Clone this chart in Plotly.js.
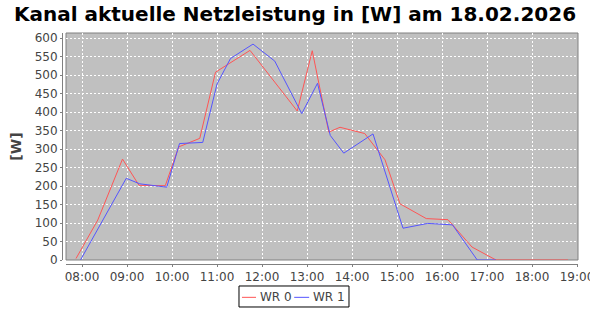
<!DOCTYPE html>
<html>
<head>
<meta charset="utf-8">
<script src="https://cdn.plot.ly/plotly-3.0.1.min.js"></script>
<style>html,body{margin:0;padding:0;background:#fff}#chart{width:590px;height:310px}</style>
</head>
<body>
<div id="chart"></div>
<script>
const day = '2026-02-18 ';
const wr0Times = ['07:52','08:21','08:54','09:16','09:51','10:09','10:37','10:58','11:44','12:47','13:07','13:29','13:44','14:17','14:44','15:04','15:39','16:08','16:40','17:12','18:48'];
const wr0Values = [4,108,273,202,201,306,329,508,567,403,566,346,359,342,271,152,112,109,35,0,0];
const wr1Times = ['07:58','08:59','09:17','09:53','10:10','10:41','11:00','11:18','11:48','12:17','12:53','13:14','13:31','13:49','14:28','15:08','15:41','16:14','16:47','17:12'];
const wr1Values = [0,221,206,197,315,318,476,545,584,538,396,478,337,289,341,86,99,95,0,0];
const seriesNames = ['WR 0','WR 1'];
const seriesColors = ['#ff5555','#5555ff'];
const titleText = 'Kanal aktuelle Netzleistung in [W] am 18.02.2026';
const yTitle = '[W]';

const font = 'DejaVu Sans, sans-serif';
const traces = [
  {x: wr0Times.map(t => day + t), y: wr0Values, name: seriesNames[0], type: 'scatter', mode: 'lines',
   line: {color: seriesColors[0], width: 1}, showlegend: false},
  {x: wr1Times.map(t => day + t), y: wr1Values, name: seriesNames[1], type: 'scatter', mode: 'lines',
   line: {color: seriesColors[1], width: 1}, showlegend: false}
];

// legend drawn manually (compact style), positions in paper fractions
const legY = -0.1443;
const legItems = [{x0: 0.3488, x1: 0.3760, tx: 0.3800}, {x0: 0.4500, x1: 0.4790, tx: 0.4830}];
const shapes = [
  {type: 'rect', xref: 'x domain', yref: 'y domain', x0: 0, x1: 1, y0: 0, y1: 1,
   line: {color: '#808080', width: 1}, fillcolor: 'rgba(0,0,0,0)', layer: 'below'},
  {type: 'rect', xref: 'paper', yref: 'paper', x0: 0.3430, x1: 0.5562, y0: -0.0952, y1: -0.1861,
   line: {color: '#000', width: 1}, fillcolor: '#fff', layer: 'above'}
];
const annotations = [];
legItems.forEach((it, i) => {
  shapes.push({type: 'line', xref: 'paper', yref: 'paper', x0: it.x0, x1: it.x1, y0: legY, y1: legY,
               line: {color: seriesColors[i], width: 1}, layer: 'above'});
  annotations.push({text: seriesNames[i], xref: 'paper', yref: 'paper', x: it.tx, y: legY,
                    xanchor: 'left', yanchor: 'middle', showarrow: false,
                    font: {family: font, size: 12, color: '#444'}});
});

const layout = {
  width: 590, height: 310,
  margin: {l: 62, r: 12, t: 33, b: 46},
  paper_bgcolor: '#ffffff', plot_bgcolor: '#c0c0c0',
  showlegend: false,
  title: {text: titleText, font: {family: font, size: 20, color: '#000', weight: 'bold'},
          x: 0.5, xref: 'container', xanchor: 'center', y: 0.978, yref: 'container', yanchor: 'top'},
  xaxis: {type: 'date', domain: [4/516, 1], anchor: 'free', position: 0,
          range: [day + '07:38:40', day + '19:01:20'],
          tick0: day + '08:00', dtick: 3600000, tickformat: '%H:%M',
          ticks: 'outside', ticklen: 2, tickcolor: '#808080', ticklabeloverflow: 'allow',
          showline: true, linecolor: '#808080', linewidth: 1,
          showgrid: true, gridcolor: '#ffffff', griddash: '2px,2px', gridwidth: 1,
          zeroline: false, tickfont: {family: font, size: 12, color: '#444'}, fixedrange: true},
  yaxis: {domain: [4/231, 1], anchor: 'free', position: 0,
          range: [0, 614], dtick: 50, tick0: 0,
          ticks: 'outside', ticklen: 2, tickcolor: '#808080',
          showline: true, linecolor: '#808080', linewidth: 1,
          showgrid: true, gridcolor: '#ffffff', griddash: '2px,2px', gridwidth: 1,
          zeroline: false, tickfont: {family: font, size: 12, color: '#444'},
          title: {text: yTitle, font: {family: font, size: 14, color: '#444', weight: 'bold'}, standoff: 8},
          fixedrange: true},
  shapes: shapes,
  annotations: annotations
};
Plotly.newPlot('chart', traces, layout, {staticPlot: true});
</script>
</body>
</html>
